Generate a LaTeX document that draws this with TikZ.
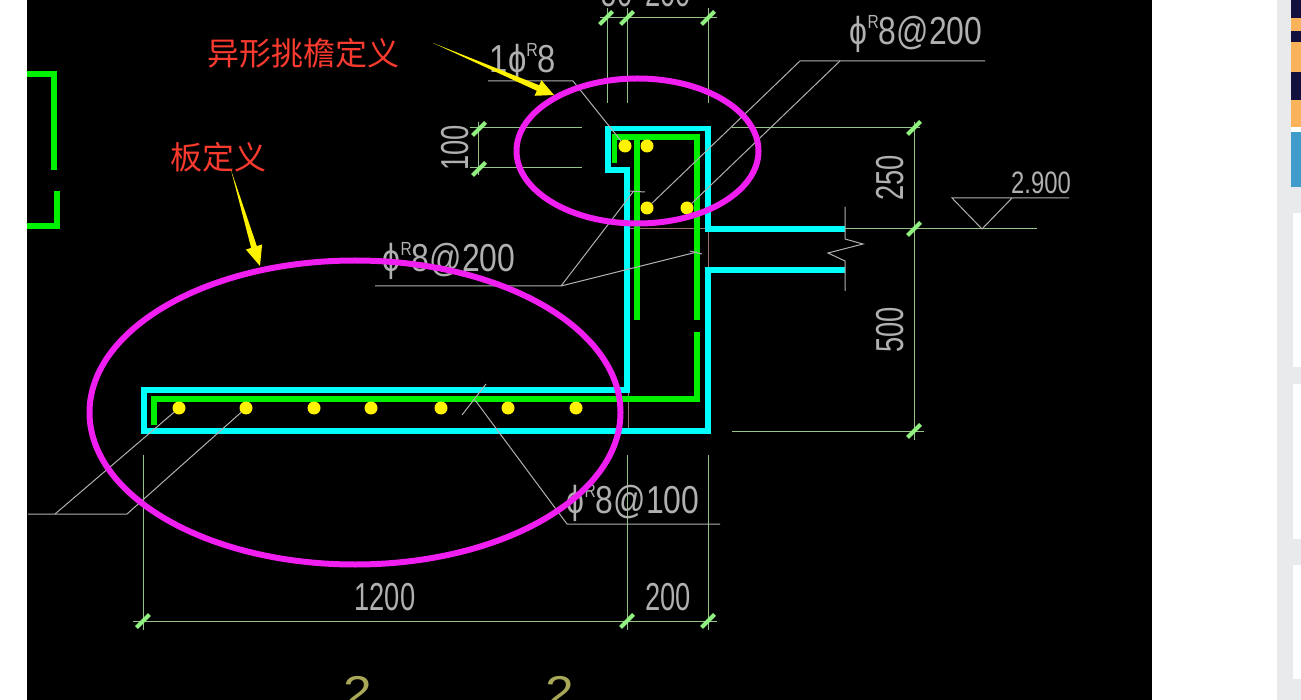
\documentclass[tikz,border=0pt]{standalone}
\usepackage{fontspec}
\usepackage{amsmath}
\usetikzlibrary{shapes, arrows.meta, positioning, calc}
\newfontfamily\cadfont[FakeStretch=0.7]{Liberation Sans}
\newfontfamily\cjk{Noto Sans CJK SC}
\definecolor{cadcyan}{HTML}{00FFFF}
\definecolor{cadgreen}{HTML}{00F000}
\definecolor{dimgreen}{HTML}{94C488}
\definecolor{tickgreen}{HTML}{90F080}
\definecolor{leadgrey}{HTML}{B0B0B0}
\definecolor{ringpink}{HTML}{F01EF0}
\definecolor{notered}{HTML}{F93A2E}
\definecolor{hintbrown}{HTML}{9A7468}
\definecolor{stripgrey}{HTML}{E9EAEB}
\definecolor{adnavy}{HTML}{12103F}
\definecolor{adorange}{HTML}{FBB35B}
\definecolor{adblue}{HTML}{3F9CCB}
\definecolor{markyellow}{HTML}{A8A858}
\tikzstyle{concrete} = [draw=cadcyan, line width=5.5pt, miter limit=10]
\tikzstyle{rebar} = [draw=cadgreen, line width=5.5pt]
\tikzstyle{bardot} = [circle, fill=yellow, inner sep=0pt, minimum size=13pt]
\tikzstyle{dimline} = [draw=dimgreen, line width=1pt]
\tikzstyle{dimtick} = [draw=tickgreen, line width=4pt]
\tikzstyle{leader} = [draw=leadgrey, line width=1pt]
\tikzstyle{ring} = [draw=ringpink, line width=6pt]
\tikzstyle{cadtext} = [inner sep=0pt, text=leadgrey, font=\cadfont\fontsize{39}{39}\selectfont]
\tikzstyle{redtext} = [inner sep=0pt, text=notered, font=\cjk\fontsize{32}{32}\selectfont]
\newcommand{\phir}{ϕ\raisebox{.42em}{\fontsize{19}{19}\selectfont R}}
\newcommand{\yarrow}[3]{\fill[yellow] (#1) -- ($(#3)!3pt!90:(#2)$) -- ($(#3)!8.5pt!90:(#2)$) -- (#2) -- ($(#3)!8.5pt!-90:(#2)$) -- ($(#3)!3pt!-90:(#2)$) -- cycle;}
\begin{document}
\begin{tikzpicture}[x=1pt, y=-1pt]
\useasboundingbox (0,0) rectangle (1301,700);
% page
\fill[white] (0,0) rectangle (1301,700);
\fill[black] (27,0) rectangle (1152,700);
\fill[stripgrey] (1277,0) rectangle (1301,700);
\fill[white] (1293,213) rectangle (1301,367);
\fill[white] (1293,384) rectangle (1301,539);
\fill[white] (1293,565) rectangle (1301,679);
\fill[adnavy] (1291,0) rectangle (1301,132);
\fill[adorange] (1291,18) rectangle (1301,31);
\fill[adorange] (1291,42) rectangle (1301,72);
\fill[adorange] (1291,100) rectangle (1301,127);
\fill[white] (1291,127) rectangle (1301,132);
\fill[adblue] (1291,132) rectangle (1301,187);
% brown hints
\draw[hintbrown, line width=1pt] (630,229) -- (708,229) -- (708,270);
\draw[hintbrown, line width=1pt] (628,390) -- (628,431);
% concrete outline
\draw[concrete] (845,229) -- (708,229) -- (708,128.5) -- (608,128.5) -- (608,170) -- (627,170) -- (627,390) -- (144,390) -- (144,431) -- (708,431) -- (708,270) -- (845,270);
% rebars
\draw[rebar] (614.5,163) -- (614.5,137) -- (697,137) -- (697,320);
\draw[rebar] (637,137) -- (637,320);
\draw[rebar] (697,332) -- (697,399) -- (154,399) -- (154,425);
\draw[rebar] (27,74) -- (54,74) -- (54,170);
\draw[rebar] (57,191) -- (57,226) -- (27,226);
% bar dots
\foreach \nm/\x/\y in {a/625/146, b/647/146, c/647/208, d/687/208, e/179/408, f/246/408, g/314/408, h/371/408, i/441/408, j/508/408, k/576/408}
  \node (dot\nm) [bardot] at (\x,\y) {};
% dimension lines
\draw[dimline] (600,18) -- (717,18);
\foreach \x in {607,627,708} \draw[dimline] (\x,8) -- (\x,103);
\draw[dimline] (478,122) -- (478,175);
\draw[dimline] (470,128) -- (582,128);
\draw[dimline] (470,168) -- (582,168);
\draw[dimline] (914,122) -- (914,440);
\draw[dimline] (732,128) -- (920,128);
\draw[dimline] (845,229) -- (1037,229);
\draw[dimline] (732,431) -- (924,431);
\draw[dimline] (133,621) -- (717,621);
\foreach \x in {143,627,708} \draw[dimline] (\x,455) -- (\x,630);
\foreach \x/\y in {606/18, 627/18, 708/18, 479/129, 479/169, 914/128, 914/229, 914/431, 143/621, 627/621, 708/621}
  \draw[dimtick] (\x-6.5,\y+6.5) -- (\x+6.5,\y-6.5);
% break line and level mark
\draw[leader] (845,207) -- (845,239) -- (863,244) -- (828,253) -- (845,261) -- (845,291);
\draw[leader] (1069,198) -- (952,198) -- (982,229) -- (1012,198);
% leaders
\coordinate (turn1) at (573,81);
\coordinate (turn2) at (800,61);
\coordinate (turn3) at (840,61);
\coordinate (turn4) at (561,286);
\coordinate (turn5) at (567,524);
\coordinate (turn6) at (55,514);
\coordinate (turn7) at (127,514);
\draw[leader] (488,81) -- (turn1) -- (dota);
\draw[leader] (985,61) -- (turn2) -- (dotc);
\draw[leader] (turn3) -- (dotd);
\draw[leader] (375,286) -- (turn4) -- (633,192);
\draw[leader] (628,191) -- (645,192);
\draw[leader] (turn4) -- (697,252);
\draw[leader] (690,251) -- (702,254);
\draw[leader] (720,524) -- (turn5) -- (475,400);
\draw[leader] (462,415) -- (486,384);
\draw[leader] (28,514) -- (turn7) -- (dotf);
\draw[leader] (turn6) -- (dote);
% CAD texts
\node (labA) [cadtext, xscale=1.17] at (916,34) {\phir8@200};
\node (labB) [cadtext, xscale=1.2] at (523,62) {1\phir8};
\node (labC) [cadtext, xscale=1.17] at (449,261) {\phir8@200};
\node (labD) [cadtext, xscale=1.17] at (633,503) {\phir8@100};
\node (dim50) [cadtext, anchor=base] at (617,7) {50};
\node (dim200a) [cadtext, anchor=base] at (668,7) {200};
\node (dim100) [cadtext, rotate=90] at (455,148) {100};
\node (dim250) [cadtext, rotate=90] at (890,178) {250};
\node (dim500) [cadtext, rotate=90] at (890,330) {500};
\node (dim1200) [cadtext] at (385,597) {1200};
\node (dim200b) [cadtext] at (668,597) {200};
\node (level) [cadtext, font=\cadfont\fontsize{31}{31}\selectfont, xscale=1.1] at (1041,183) {2.900};
\node (mark1) [cadtext, text=markyellow, font=\cadfont\fontsize{46}{46}\selectfont, xscale=1.6, anchor=base] at (358,708) {2};
\node (mark2) [cadtext, text=markyellow, font=\cadfont\fontsize{46}{46}\selectfont, xscale=1.6, anchor=base] at (560,708) {2};
% rings and notes
\node (ringA) [ring, ellipse, minimum width=242pt, minimum height=145pt, inner sep=0pt] at (637.5,151) {};
\node (ringB) [ring, ellipse, minimum width=531pt, minimum height=304pt, inner sep=0pt] at (355,412.5) {};
\node (noteA) [redtext] at (303.5,53) {异形挑檐定义};
\node (noteB) [redtext] at (218.5,157) {板定义};
\coordinate (tailA) at (433,43);
\coordinate (tipA) at (554,95);
\coordinate (neckA) at (538,88);
\coordinate (tailB) at (231,170);
\coordinate (tipB) at (260,266);
\coordinate (neckB) at (254,247);
\yarrow{tailA}{tipA}{neckA}
\yarrow{tailB}{tipB}{neckB}
\end{tikzpicture}
\end{document}
